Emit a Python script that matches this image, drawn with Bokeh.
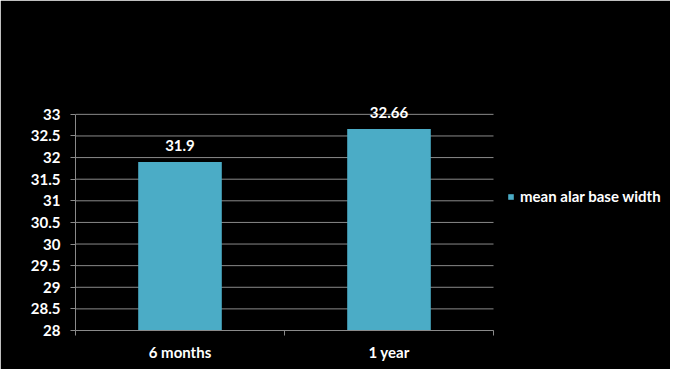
from bokeh.plotting import figure
from bokeh.models import (ColumnDataSource, FixedTicker, LabelSet, Legend, LegendItem,
                          Range1d)
from bokeh.core.properties import value
from bokeh.embed import file_html
from bokeh.resources import INLINE

# ---- data ----
categories = ["6 months", "1 year"]
values = [31.9, 32.66]
value_labels = ["31.9", "32.66"]
series_name = "mean alar base width"
y_ticks = [28, 28.5, 29, 29.5, 30, 30.5, 31, 31.5, 32, 32.5, 33]
y_tick_labels = ["28", "28.5", "29", "29.5", "30", "30.5", "31", "31.5", "32", "32.5", "33"]

FONT = "Lato"
BAR_COLOR = "#4BACC6"
GRID_COLOR = "#8a8a8a"

n = len(categories)
centers = [i + 0.5 for i in range(n)]
boundaries = [float(i) for i in range(n + 1)]

source = ColumnDataSource(dict(x=centers, top=values, label=value_labels))

# frame: 595 px wide, plot area occupies the first 418 px (legend area to the right)
x_end = n * 595 / 418
p = figure(width=670, height=369, output_backend="svg", toolbar_location=None,
           x_range=Range1d(0, x_end), y_range=Range1d(y_ticks[0], 34.5),
           min_border_left=75, min_border_right=0, min_border_top=49,
           min_border_bottom=39)
p.background_fill_color = "black"
p.border_fill_color = "black"
p.outline_line_color = "black"
p.outline_line_width = 3

# horizontal gridlines, limited to the category span
p.segment(x0=[0] * len(y_ticks), x1=[n] * len(y_ticks), y0=y_ticks, y1=y_ticks,
          line_color=GRID_COLOR, line_width=1)

bars = p.vbar(x="x", top="top", bottom=y_ticks[0], width=0.4, source=source,
              fill_color=BAR_COLOR, line_color=None)

# y axis
p.yaxis.ticker = FixedTicker(ticks=y_ticks, minor_ticks=[])
p.yaxis.bounds = (y_ticks[0], y_ticks[-1])
p.yaxis.major_label_overrides = {t: l for t, l in zip(y_ticks, y_tick_labels)}
p.yaxis.axis_line_color = GRID_COLOR
p.yaxis.major_tick_line_color = GRID_COLOR
p.yaxis.major_tick_out = 5
p.yaxis.major_tick_in = 0
p.yaxis.major_label_standoff = 10
p.yaxis.major_label_text_color = "white"
p.yaxis.major_label_text_font = FONT
p.yaxis.major_label_text_font_style = "bold"
p.yaxis.major_label_text_font_size = "15px"

# x axis
p.xaxis.ticker = FixedTicker(ticks=centers, minor_ticks=boundaries)
p.xaxis.bounds = (0, n)
p.xaxis.major_label_overrides = {c: l for c, l in zip(centers, categories)}
p.xaxis.axis_line_color = GRID_COLOR
p.xaxis.major_tick_out = 0
p.xaxis.major_tick_in = 0
p.xaxis.minor_tick_line_color = GRID_COLOR
p.xaxis.minor_tick_out = 5
p.xaxis.minor_tick_in = 0
p.xaxis.major_label_standoff = 7
p.xaxis.major_label_text_color = "white"
p.xaxis.major_label_text_font = FONT
p.xaxis.major_label_text_font_style = "bold"
p.xaxis.major_label_text_font_size = "15px"

p.xgrid.grid_line_color = None
p.ygrid.grid_line_color = None

labels = LabelSet(x="x", y="top", text="label", source=source, text_align="center",
                  text_baseline="alphabetic", y_offset=11, text_color="white",
                  text_font=value(FONT), text_font_style="bold", text_font_size="15px")
p.add_layout(labels)

legend = Legend(items=[LegendItem(label=series_name, renderers=[bars])],
                location=(432, 125), padding=0, margin=0, border_line_color=None,
                background_fill_alpha=0, glyph_width=7, glyph_height=7,
                label_standoff=6, label_text_color="white", label_text_font=FONT,
                label_text_font_style="bold", label_text_font_size="15px",
                label_height=7)
p.add_layout(legend, "center")

open("out.html", "w").write(file_html(p, INLINE))
